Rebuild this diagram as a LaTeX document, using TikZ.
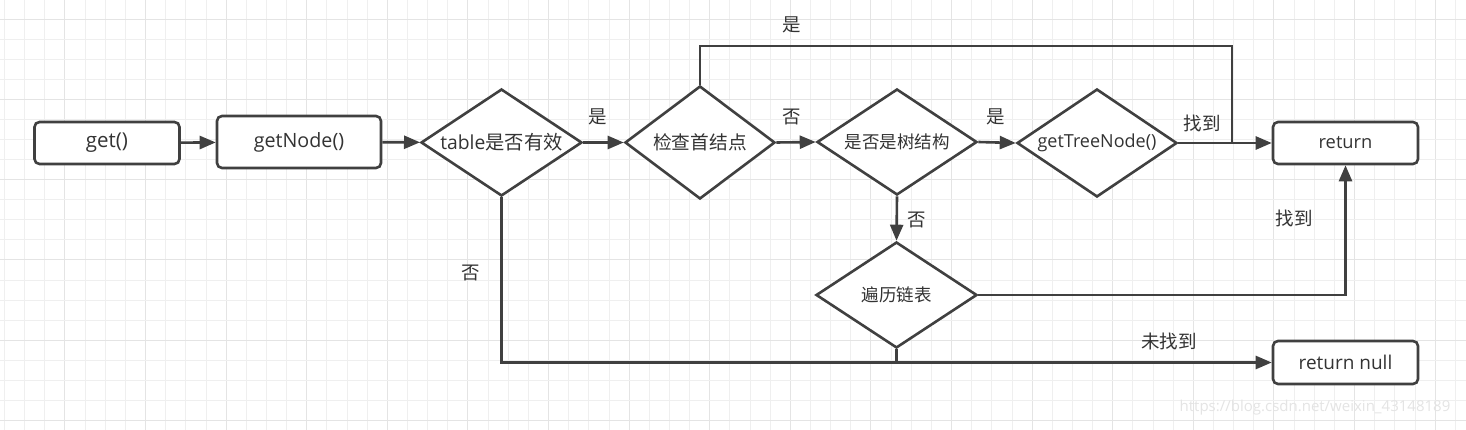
\documentclass[tikz,border=0pt]{standalone}
\usepackage{fontspec}
\setmainfont{Open Sans}
\newfontfamily\cjk{Noto Sans CJK SC}
\usetikzlibrary{shapes.geometric,arrows.meta}
\definecolor{ink}{HTML}{404040}
\definecolor{txt}{HTML}{333333}
\definecolor{gridminor}{HTML}{EFEFEF}
\definecolor{gridmajor}{HTML}{E4E4E4}
\definecolor{wm}{HTML}{E4E4E4}
\newcommand{\fs}[1]{\fontsize{#1}{#1}\selectfont}
\tikzset{
  box/.style={draw=ink, line width=2.6pt, rounded corners=5pt, fill=white, text=txt,
    inner sep=0pt, font=\fs{18}},
  dia/.style={draw=ink, line width=2.6pt, diamond, aspect=1.5, fill=white, text=txt,
    inner sep=0pt, font=\fs{18}},
  conn/.style={draw=ink, line width=2.6pt},
  arr/.style={conn, -{Triangle[length=16pt,width=13pt]}},
  lbl/.style={text=txt, inner sep=0pt, font=\fs{18.5}\cjk},
}
\begin{document}
\begin{tikzpicture}[x=1pt,y=-1pt]
\useasboundingbox (0,0) rectangle (1466,430);
\fill[white] (0,0) rectangle (1466,430);
% grid
\foreach \k in {0,...,72} {
  \pgfmathtruncatemacro{\m}{mod(\k,4)}
  \ifnum\m=3 \def\gc{gridmajor}\else\def\gc{gridminor}\fi
  \draw[\gc, line width=1pt] ({4.5+20.15*\k},0) -- ({4.5+20.15*\k},430);
}
\foreach \k in {0,...,21} {
  \pgfmathtruncatemacro{\m}{mod(\k,4)}
  \ifnum\m=1 \def\gc{gridmajor}\else\def\gc{gridminor}\fi
  \draw[\gc, line width=1pt] (0,{20*\k}) -- (1466,{20*\k});
}
% nodes
\node[box, minimum width=145pt, minimum height=42pt, font=\fs{20.5}] (get) at (107,143) {get()};
\node[box, minimum width=164pt, minimum height=52pt, font=\fs{19.7}] (getnode) at (299,142) {getNode()};
\node[dia, minimum width=161pt, minimum height=107pt, font=\fs{19.3}] (table) at (501.5,142.5) {table{\cjk 是否有效}};
\node[dia, minimum width=150pt, minimum height=113pt, font=\fs{18.7}] (chk) at (700,142.5) {\cjk 检查首结点};
\node[dia, minimum width=160pt, minimum height=106pt, font=\fs{17.5}] (tree) at (897,142) {\cjk 是否是树结构};
\node[dia, minimum width=160pt, minimum height=108pt, font=\fs{18}] (gtn) at (1097,143) {getTreeNode()};
\node[box, minimum width=145pt, minimum height=42pt, font=\fs{18.3}] (ret) at (1345.5,143) {return};
\node[dia, minimum width=161pt, minimum height=106pt, font=\fs{17.5}] (trav) at (896.5,295) {\cjk 遍历链表};
\node[box, minimum width=145pt, minimum height=43pt, font=\fs{19}] (retnull) at (1345.5,362.5) {return null};
\coordinate (topc) at (1232,46);
\coordinate (joinr) at (1232,143);
% connectors
\draw[arr] (get) -- (getnode);
\draw[arr] (getnode) -- (table);
\draw[arr] (table.east) -- (chk.west);
\draw[arr] (chk.east) -- (tree.west);
\draw[arr] (tree.east) -- (gtn.west);
\draw[arr] (gtn.east) -- (ret.west);
\draw[conn] (chk.north) |- (topc) -- (joinr);
\draw[arr] (tree.south) -- (trav.north);
\draw[arr] (trav.east) -| (ret.south);
\draw[arr] (table.south) |- (retnull.west);
\draw[conn] (trav.south) -- (trav.south |- retnull.west);
% labels
\node[lbl] (l1) at (598,117) {是};
\node[lbl] (l2) at (792,25) {是};
\node[lbl] (l3) at (792,117) {否};
\node[lbl] (l4) at (996,117) {是};
\node[lbl] (l5) at (1202,123) {找到};
\node[lbl] (l6) at (917,220) {否};
\node[lbl] (l7) at (1294,218) {找到};
\node[lbl] (l8) at (471,273) {否};
\node[lbl] (l9) at (1169,341) {未找到};
\node[text=wm, inner sep=0pt, font=\fs{15}] (wmk) at (1315,408) {https://blog.csdn.net/weixin\_43148189};
\end{tikzpicture}
\end{document}
